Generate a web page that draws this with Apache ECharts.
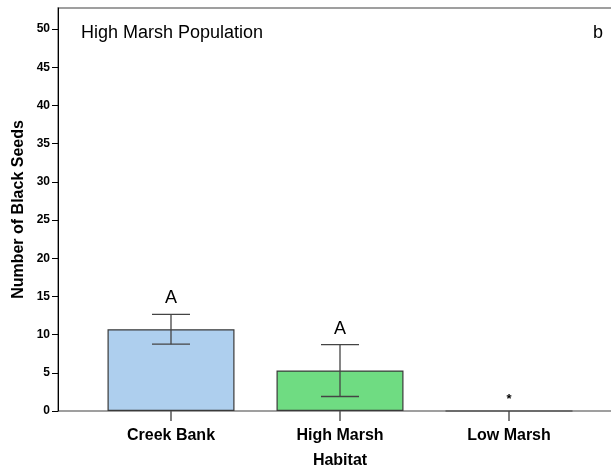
<!DOCTYPE html>
<html>
<head>
<meta charset="utf-8">
<script src="https://cdn.jsdelivr.net/npm/echarts@6/dist/echarts.min.js"></script>
<style>
  html, body { margin: 0; padding: 0; background: #fff; }
  #chart { width: 611px; height: 470px; }
</style>
</head>
<body>
<div id="chart"></div>
<script>
// Mean black seed counts by habitat, with error bar bounds and group letters
const habitats = ['Creek Bank', 'High Marsh', 'Low Marsh'];
const meanSeeds = [10.7, 5.3, 0];
const errLow = [8.75, 1.9, 0];
const errHigh = [12.65, 8.7, 0];
const groupLetters = ['A', 'A', '*'];
const barColors = ['#aecfee', '#6fdc82', '#ffffff'];
const yTicks = [0, 5, 10, 15, 20, 25, 30, 35, 40, 45, 50];

const FONT = '"Liberation Sans", Arial, sans-serif';
const Y_MAX = 52.75;

const chart = echarts.init(document.getElementById('chart'), null, { renderer: 'canvas' });

const option = {
  animation: false,
  backgroundColor: '#ffffff',
  textStyle: { fontFamily: FONT },
  title: [
    {
      text: 'High Marsh Population',
      left: 76, top: 19,
      textStyle: { fontFamily: FONT, fontSize: 18, fontWeight: 'normal', color: '#000' }
    },
    {
      text: 'b',
      left: 588, top: 19,
      textStyle: { fontFamily: FONT, fontSize: 18, fontWeight: 'normal', color: '#000' }
    }
  ],
  grid: [
    // frame: top rule and baseline (right edge runs past the canvas)
    { left: 58, top: 8, right: -11, bottom: 59, outerBoundsMode: 'none', containLabel: false,
      show: true, borderColor: '#808080', borderWidth: 1.5, backgroundColor: 'transparent' },
    // bar area
    { left: 86.5, width: 507, top: 8, bottom: 59, outerBoundsMode: 'none', containLabel: false }
  ],
  xAxis: [
    { type: 'value', gridIndex: 0, min: 0, max: 1, show: false },
    {
      type: 'category', gridIndex: 1, data: habitats,
      axisLine: { show: false },
      axisTick: { show: true, alignWithLabel: true, length: 10, lineStyle: { color: '#555', width: 1.5 } },
      axisLabel: { fontFamily: FONT, fontSize: 16, fontWeight: 'bold', color: '#000', margin: 17 },
      name: 'Habitat', nameLocation: 'middle', nameGap: 42,
      nameTextStyle: { fontFamily: FONT, fontSize: 16, fontWeight: 'bold', color: '#000' }
    }
  ],
  yAxis: [
    {
      type: 'value', gridIndex: 0, min: 0, max: Y_MAX,
      axisLine: { show: true, lineStyle: { color: '#000', width: 1 } },
      axisTick: { show: true, length: 6, customValues: yTicks, lineStyle: { color: '#000' } },
      axisLabel: { customValues: yTicks, fontFamily: FONT, fontSize: 12, fontWeight: 'bold', color: '#000', margin: 8 },
      splitLine: { show: false },
      name: 'Number of Black Seeds', nameLocation: 'middle', nameGap: 31, nameMoveOverlap: false,
      nameTextStyle: { fontFamily: FONT, fontSize: 16, fontWeight: 'bold', color: '#000' }
    },
    { type: 'value', gridIndex: 1, min: 0, max: Y_MAX, show: false }
  ],
  series: [
    {
      type: 'bar', xAxisIndex: 1, yAxisIndex: 1,
      barWidth: 127,
      data: meanSeeds.map((v, i) => ({
        value: v,
        itemStyle: { color: barColors[i], borderColor: '#3a3a3a', borderWidth: 1.2 }
      })),
      z: 2
    },
    {
      type: 'custom', xAxisIndex: 1, yAxisIndex: 1, z: 3,
      data: habitats.map((h, i) => [i, errLow[i], errHigh[i], meanSeeds[i]]),
      renderItem: function (params, api) {
        const i = api.value(0);
        const lo = api.coord([i, api.value(1)]);
        const hi = api.coord([i, api.value(2)]);
        const x = lo[0];
        const capHalf = 19;
        const children = [];
        if (api.value(2) > api.value(1)) {
          const st = { stroke: '#444', lineWidth: 1.3 };
          children.push({ type: 'line', shape: { x1: x, y1: hi[1], x2: x, y2: lo[1] }, style: st });
          children.push({ type: 'line', shape: { x1: x - capHalf, y1: hi[1], x2: x + capHalf, y2: hi[1] }, style: st });
          children.push({ type: 'line', shape: { x1: x - capHalf, y1: lo[1], x2: x + capHalf, y2: lo[1] }, style: st });
        }
        const letter = groupLetters[i];
        const isStar = letter === '*';
        children.push({
          type: 'text',
          x: x, y: hi[1] - (isStar ? 5 : 7),
          style: {
            text: letter,
            fill: '#000',
            font: isStar ? ('bold 13px ' + FONT) : ('18px ' + FONT),
            textAlign: 'center',
            textVerticalAlign: 'bottom'
          }
        });
        return { type: 'group', children: children };
      }
    }
  ]
};

chart.setOption(option);
</script>
</body>
</html>
